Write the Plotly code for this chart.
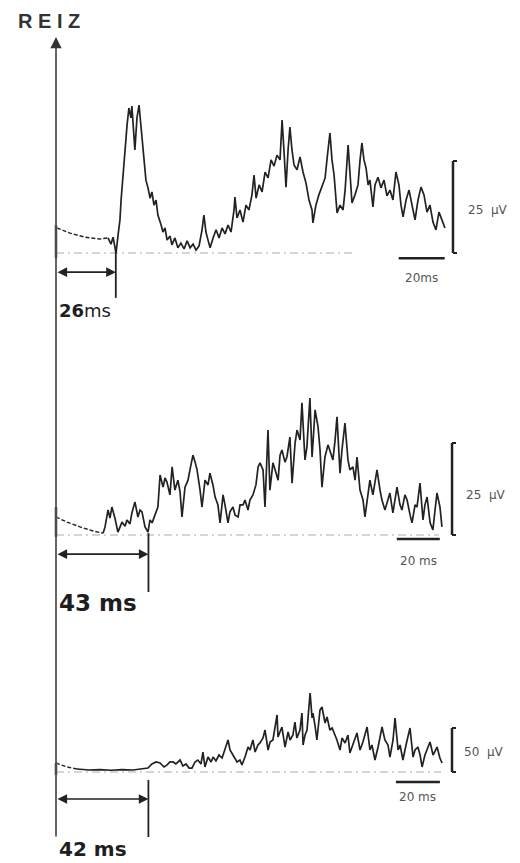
import plotly.graph_objects as go

# ---------------- data (ms, µV) ----------------
latencies_ms = [26, 43, 42]
amp_scale_uv = [25, 25, 50]
time_scale_ms = 20

# trace 1
p1_pre_t = [0.4, 6.1, 12.6, 19.1, 22.6]
p1_pre_v = [6.8, 5.4, 4.3, 3.8, 4.1]
p1_t = [22.6, 23.9, 24.8, 25.7, 26.1, 27.0, 27.8, 28.3, 29.1, 30.0, 30.9, 31.7, 32.6, 33.0, 33.9, 34.3,
        35.2, 36.1, 36.5, 37.4, 38.3, 39.1, 40.0, 40.9, 41.7, 42.6, 43.5, 44.3, 45.7, 46.5, 47.4, 48.3,
        49.6, 50.4, 51.7, 53.0, 54.3, 55.7, 57.0, 58.3, 59.6, 60.9, 62.2, 63.5, 64.3, 65.2, 66.1, 67.0,
        68.3, 69.6, 70.9, 72.2, 73.5, 74.8, 76.1, 77.4, 77.8, 78.7, 80.0, 81.3, 82.6, 83.9, 85.2, 86.1,
        87.0, 88.3, 89.6, 90.9, 92.2, 93.5, 94.8, 96.1, 97.4, 98.3, 99.1, 100.0, 100.9, 101.7, 102.6,
        103.5, 104.8, 106.1, 107.4, 108.7, 110.0, 111.3, 111.7, 113.0, 114.3, 115.7, 117.0, 117.8,
        119.1, 120.0, 120.9, 122.2, 123.5, 124.8, 125.7, 127.0, 127.8, 128.7, 130.0, 131.3, 132.2,
        133.0, 133.9, 134.8, 135.7, 136.5, 137.8, 138.7, 140.0, 141.3, 142.6, 143.9, 145.2, 146.5,
        147.8, 149.1, 150.0, 150.9, 152.2, 153.5, 154.8, 156.1, 157.4, 158.7, 160.0, 161.3, 162.6,
        163.9, 165.2, 166.5, 167.8, 169.1]
p1_v = [4.1, 2.4, 4.3, 1.4, 0.0, 4.9, 9.0, 14.4, 21.2, 28.0, 34.8, 39.4, 36.7, 39.9, 30.7, 28.0,
        36.7, 40.2, 37.5, 30.7, 23.9, 19.8, 17.7, 14.9, 16.6, 13.0, 14.4, 10.3, 7.6, 5.7, 6.8, 3.5,
        4.6, 2.2, 4.1, 1.4, 2.7, 1.1, 3.3, 1.4, 2.4, 0.8, 1.9, 6.3, 10.3, 5.7, 3.5, 1.4,
        4.1, 6.3, 4.1, 6.8, 5.2, 7.6, 5.7, 11.7, 15.2, 9.5, 11.7, 8.4, 13.0, 11.7, 15.8, 21.2,
        14.9, 18.5, 16.6, 22.0, 20.4, 25.3, 23.6, 26.6, 25.3, 36.1, 28.0, 17.9, 28.0, 34.2, 28.0,
        23.9, 22.6, 26.1, 22.0, 19.0, 14.4, 11.7, 8.2, 13.0, 15.8, 18.5, 20.4, 25.3,
        32.6, 25.3, 21.2, 10.9, 13.0, 11.7, 17.1, 29.3, 22.6, 13.6, 15.8, 18.5, 25.3,
        29.9, 25.3, 23.1, 18.5, 19.8, 12.5, 18.5, 20.6, 17.7, 19.8, 15.5, 17.1, 14.4,
        22.0, 18.5, 13.0, 9.8, 14.4, 17.1, 13.0, 9.0, 14.4, 17.9, 15.8, 11.1, 13.0,
        8.4, 6.3, 11.1, 9.0, 6.8]

# trace 2
p2_pre_t = [0.0, 5.1, 11.2, 17.2, 21.9]
p2_pre_v = [4.9, 3.5, 2.2, 1.1, 0.5]
p2_t = [21.9, 22.8, 24.2, 25.1, 26.0, 27.4, 28.8, 30.7, 32.1, 33.0, 34.4, 35.3, 36.7, 38.1, 39.1, 40.0,
        41.4, 42.8, 43.7, 44.7, 46.0, 47.4, 48.4, 49.8, 50.7, 51.6, 53.0, 54.0, 55.3, 56.7, 57.7, 58.6,
        60.0, 61.4, 62.3, 63.7, 64.7, 65.6, 67.0, 67.9, 69.3, 70.7, 71.6, 73.0, 74.0, 75.3, 76.3, 77.7,
        78.6, 80.0, 80.9, 82.3, 83.3, 84.7, 85.6, 87.0, 87.9, 89.3, 90.2, 91.6, 93.0, 94.0, 94.9, 96.3,
        97.2, 98.6, 99.5, 100.9, 101.9, 103.3, 104.2, 105.1, 106.5, 107.4, 108.8, 109.8, 111.2, 112.1,
        113.5, 114.4, 114.9, 115.8, 116.7, 118.1, 119.1, 120.5, 121.9, 122.8, 123.7, 125.1, 126.5,
        127.4, 128.8, 129.8, 130.7, 132.1, 133.0, 134.4, 135.8, 136.7, 138.1, 139.1, 140.0, 141.4,
        142.8, 143.7, 145.1, 146.0, 147.4, 149.3, 150.7, 151.6, 153.0, 154.4, 155.3, 156.7, 157.7,
        158.6, 160.0, 160.9, 162.3, 163.3, 164.7, 165.6, 167.0, 167.9, 169.3, 170.7, 171.6, 172.6,
        174.0, 175.3, 176.3, 177.2, 178.6, 179.5]
p2_v = [0.5, 2.2, 6.8, 4.6, 7.6, 4.6, 0.8, 3.5, 2.4, 4.1, 3.0, 6.0, 9.0, 4.9, 6.8, 6.3,
        2.2, 0.8, 4.1, 3.3, 5.4, 7.6, 16.3, 13.0, 15.5, 14.4, 10.9, 18.5, 12.2, 14.9, 11.7, 4.9,
        13.0, 14.9, 17.7, 21.7, 19.8, 17.7, 12.2, 7.6, 14.9, 13.6, 16.8, 13.6, 10.3, 8.2, 3.3, 10.9,
        8.2, 3.3, 6.3, 7.6, 5.4, 4.9, 8.2, 8.2, 9.5, 6.8, 9.5, 10.9, 13.6, 18.5, 19.6, 17.7,
        7.6, 28.5, 12.2, 19.6, 17.7, 14.9, 21.7, 23.1, 19.8, 21.2, 26.6, 14.1, 25.0, 28.5,
        25.8, 35.9, 30.4, 20.4, 23.9, 37.2, 21.2, 34.0, 29.3, 23.1, 13.0, 21.2, 24.5,
        23.1, 20.4, 25.8, 32.1, 16.8, 23.1, 30.4, 20.4, 17.7, 18.5, 14.9, 21.2, 12.2,
        9.5, 4.9, 10.9, 14.9, 10.9, 17.7, 12.2, 9.5, 6.8, 9.5, 11.4, 6.0, 9.5,
        13.0, 8.2, 6.8, 10.9, 9.5, 5.4, 3.3, 8.2, 7.6, 14.1, 4.1, 8.2, 10.3,
        3.3, 1.4, 6.8, 11.4, 7.6, 2.2]

# trace 3
p3_pre_t = [0.0, 2.3, 5.0, 9.5]
p3_pre_v = [10.2, 8.0, 5.7, 3.4]
p3_t = [9.5, 15.0, 20.0, 25.0, 30.0, 35.0, 41.8, 43.6, 45.5, 47.3, 49.1, 50.5, 51.8, 53.2, 54.5, 56.4,
        57.7, 59.1, 60.5, 61.8, 63.2, 64.5, 65.9, 66.8, 67.7, 69.1, 70.5, 71.4, 72.7, 74.1, 75.5, 76.8,
        78.2, 79.1, 80.0, 81.4, 82.3, 83.6, 84.5, 85.9, 87.3, 88.2, 89.5, 90.5, 91.8, 92.7, 94.1, 95.0,
        96.4, 97.3, 98.6, 99.5, 100.5, 100.9, 101.8, 102.7, 104.1, 105.5, 106.4, 107.7, 108.6, 109.5,
        110.9, 111.8, 112.3, 113.2, 114.1, 115.0, 115.5, 116.4, 116.8, 117.7, 118.6, 120.0, 120.9,
        122.3, 123.2, 124.5, 125.5, 126.8, 127.7, 129.1, 130.0, 131.4, 132.7, 133.6, 135.0, 136.8,
        138.2, 139.5, 141.4, 142.7, 143.6, 145.0, 146.4, 148.2, 149.5, 150.9, 151.8, 153.2, 154.1,
        155.5, 156.4, 157.7, 159.1, 160.9, 162.3, 163.2, 164.5, 165.5, 166.4, 167.7, 168.6, 170.0,
        171.4, 172.3, 173.2, 174.5, 175.5]
p3_v = [3.4, 2.3, 2.8, 2.0, 2.6, 2.3, 4.5, 9.1, 11.4, 10.2, 5.7, 8.0, 11.4, 11.4, 9.1, 13.6,
        6.8, 9.1, 4.5, 4.5, 11.4, 13.6, 9.1, 22.7, 5.7, 17.0, 11.4, 17.0, 12.5, 19.3, 15.9, 25.0,
        36.4, 25.0, 21.6, 15.9, 11.4, 13.6, 8.0, 17.0, 28.4, 25.0, 36.4, 22.7, 30.7, 33.0, 38.6, 47.7,
        25.0, 34.1, 36.4, 50.0, 64.8, 39.8, 45.5, 51.1, 28.4, 45.5, 36.4, 42.0, 56.8, 38.6,
        47.7, 67.0, 30.7, 42.0, 47.7, 76.1, 89.8, 61.4, 67.0, 53.4, 36.4, 70.5, 73.9,
        55.7, 62.5, 47.7, 50.0, 42.0, 36.4, 25.0, 38.6, 33.0, 42.0, 21.6, 30.7, 44.3,
        25.0, 34.1, 51.1, 25.0, 30.7, 13.6, 28.4, 51.1, 36.4, 30.7, 17.0, 36.4, 61.4,
        25.0, 30.7, 13.6, 30.7, 50.0, 17.0, 25.0, 28.4, 19.3, 5.7, 19.3, 25.0, 34.1,
        19.3, 25.0, 28.4, 15.9, 10.2]

baseline_end_ms = [130, 178, 175]

# ---------------- layout geometry ----------------
W, H = 520, 863
X0 = 56                       # stimulus position (px)
px_per_ms = [2.3, 2.15, 2.2]
base_px = [253, 535, 772]     # baseline pixel rows
px_per_uv = [3.68, 3.68, 0.88]

fig = go.Figure()
INK = "#222222"

panels = [
    (p1_pre_t, p1_pre_v, p1_t, p1_v),
    (p2_pre_t, p2_pre_v, p2_t, p2_v),
    (p3_pre_t, p3_pre_v, p3_t, p3_v),
]

layout_axes = {}
for i in range(3):
    n = "" if i == 0 else str(i + 1)
    xa, ya = "x" + n, "y" + n
    s_t, s_v, b = px_per_ms[i], px_per_uv[i], base_px[i]
    xr = [-X0 / s_t, (W - X0) / s_t]
    yr = [(b - H) / s_v, b / s_v]
    ax = dict(range=xr, domain=[0, 1], visible=False, fixedrange=True)
    ay = dict(range=yr, domain=[0, 1], visible=False, fixedrange=True)
    if i > 0:
        ax["overlaying"] = "x"
        ay["overlaying"] = "y"
    ax["anchor"] = ya
    ay["anchor"] = xa
    layout_axes["xaxis" + n] = ax
    layout_axes["yaxis" + n] = ay

    pre_t, pre_v, tt, vv = panels[i]
    fig.add_trace(go.Scatter(x=[0, baseline_end_ms[i]], y=[0, 0], mode="lines",
                             line=dict(color="#ababab", width=1, dash="8px,4px,2px,4px"),
                             xaxis=xa, yaxis=ya, hoverinfo="skip", showlegend=False))
    fig.add_trace(go.Scatter(x=pre_t, y=pre_v, mode="lines",
                             line=dict(color=INK, width=1.4, dash="4px,2px"),
                             xaxis=xa, yaxis=ya, hoverinfo="skip", showlegend=False))
    fig.add_trace(go.Scatter(x=tt, y=vv, mode="lines",
                             line=dict(color=INK, width=1.7),
                             xaxis=xa, yaxis=ya, hoverinfo="skip", showlegend=False))

fig.update_layout(**layout_axes)

shapes = []
annos = []

bar_x_ms = [172.6, 184.2, 180.0]
tbar_end_ms = [169.0, 178.5, 174.5]
tbar_y_uv = [-1.4, -1.1, -11.4]
tlabel_y_uv = [-6.8, -7.1, -28.4]
alabel_x_ms = [178.3, 189.7, 184.5]
alabel_y_uv = [11.7, 10.9, 22.7]
arrow_y_uv = [-5.2, -5.2, -30.7]
onset_top_uv = [1.0, 0.5, -9.0]
onset_bot_uv = [-12.2, -15.5, -73.9]
lat_label_y_uv = [-15.5, -18.5, -87.0]
stim_mark = [(7.6, -1.4), (7.6, -0.5), (10.2, -3.4)]
tlabels = ["20ms", "20 ms", "20 ms"]
alabels = ["25  µV", "25  µV", "50  µV"]
lat_texts = ["<b>26</b>ms", "<b>43 ms</b>", "<b>42 ms</b>"]
lat_sizes = [18, 23, 20]
LBL = "DejaVu Sans, Liberation Sans, Arial"

for i in range(3):
    n = "" if i == 0 else str(i + 1)
    xa, ya = "x" + n, "y" + n
    amp = amp_scale_uv[i]
    bx = bar_x_ms[i]
    serif = 4.0 / px_per_ms[i]
    shapes.append(dict(type="line", xref=xa, yref=ya, x0=bx, x1=bx, y0=0, y1=amp,
                       line=dict(color=INK, width=2.5)))
    shapes.append(dict(type="line", xref=xa, yref=ya, x0=bx, x1=bx + serif, y0=amp, y1=amp,
                       line=dict(color=INK, width=2)))
    shapes.append(dict(type="line", xref=xa, yref=ya, x0=bx, x1=bx + serif, y0=0, y1=0,
                       line=dict(color=INK, width=2)))
    te = tbar_end_ms[i]
    shapes.append(dict(type="line", xref=xa, yref=ya, x0=te - time_scale_ms, x1=te,
                       y0=tbar_y_uv[i], y1=tbar_y_uv[i], line=dict(color=INK, width=2.5)))
    annos.append(dict(xref=xa, yref=ya, x=te - time_scale_ms / 2, y=tlabel_y_uv[i],
                      text=tlabels[i], showarrow=False, xanchor="center", yanchor="middle",
                      font=dict(family=LBL, size=12, color="#555")))
    annos.append(dict(xref=xa, yref=ya, x=alabel_x_ms[i], y=alabel_y_uv[i],
                      text=alabels[i], showarrow=False, xanchor="left", yanchor="middle",
                      font=dict(family=LBL, size=12, color="#555")))
    lat = latencies_ms[i]
    shapes.append(dict(type="line", xref=xa, yref=ya, x0=lat, x1=lat,
                       y0=onset_top_uv[i], y1=onset_bot_uv[i], line=dict(color=INK, width=1.8)))
    annos.append(dict(xref=xa, yref=ya, x=lat, y=arrow_y_uv[i], axref=xa, ayref=ya,
                      ax=0, ay=arrow_y_uv[i], text="", showarrow=True, arrowside="end+start",
                      arrowhead=2, arrowsize=1.2, arrowwidth=1.6, arrowcolor=INK, standoff=0,
                      startstandoff=0))
    annos.append(dict(xref=xa, yref=ya, x=0.3, y=lat_label_y_uv[i], text=lat_texts[i],
                      showarrow=False, xanchor="left", yanchor="middle",
                      font=dict(family=LBL, size=lat_sizes[i], color="#1e1e1e")))
    shapes.append(dict(type="line", xref=xa, yref=ya, x0=0, x1=0, y0=stim_mark[i][0],
                       y1=stim_mark[i][1], line=dict(color="#9a9a9a", width=3)))

# stimulus (REIZ) line with arrow head at t = 0
annos.append(dict(xref="x", yref="paper", x=0, y=1 - 37 / H, ax=0, ay=801,
                  text="", showarrow=True, arrowhead=2, arrowsize=1.5, arrowwidth=1.5,
                  arrowcolor="#333", standoff=0))
annos.append(dict(xref="paper", yref="paper", x=16 / W, y=1 - 21 / H, text="<b>R E I Z</b>",
                  showarrow=False, xanchor="left", yanchor="middle",
                  font=dict(family="Liberation Sans, Arial", size=20, color="#333")))

fig.update_layout(shapes=shapes, annotations=annos, width=W, height=H, autosize=False,
                  margin=dict(l=0, r=0, t=0, b=0), paper_bgcolor="white", plot_bgcolor="white",
                  showlegend=False)

fig.write_html("out.html", config={"displayModeBar": False, "staticPlot": True})
